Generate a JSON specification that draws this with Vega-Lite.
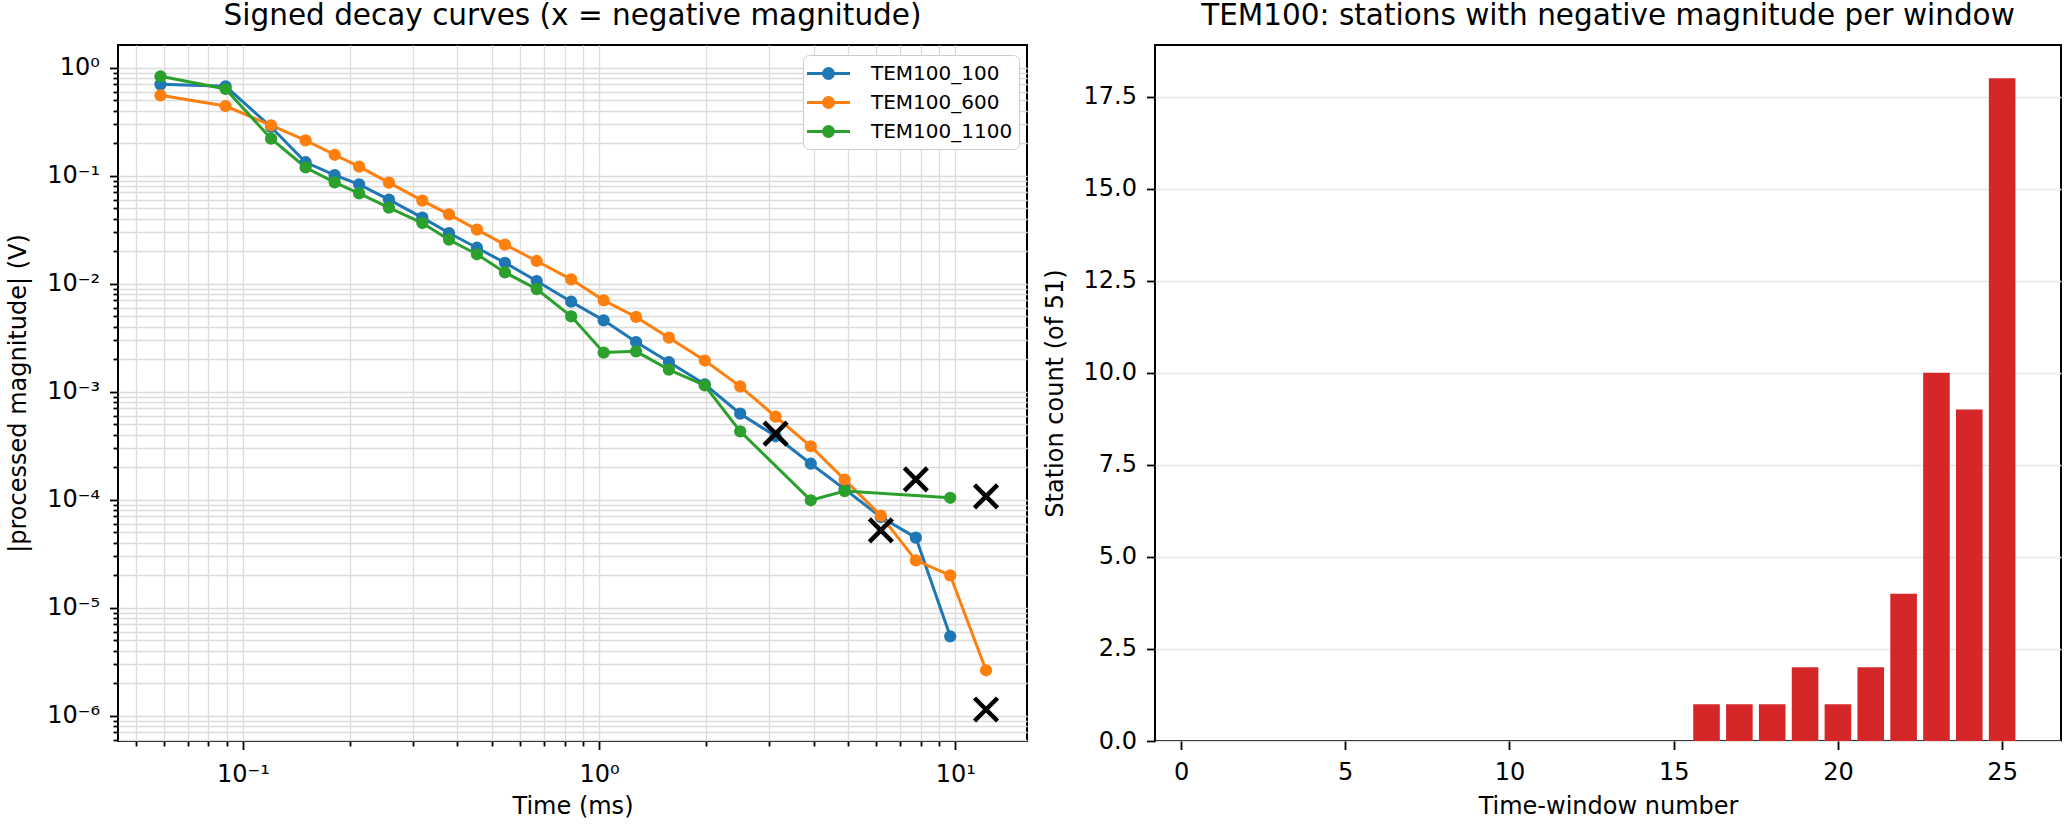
{
  "$schema": "https://vega.github.io/schema/vega-lite/v6.json",
  "autosize": {"type": "none"},
  "padding": {"left": 118, "top": 45, "right": 1952, "bottom": 782},
  "background": "white",
  "spacing": 128,
  "bounds": "flush",
  "config": {
    "font": "DejaVu Sans",
    "view": {"stroke": "#000000", "strokeWidth": 2},
    "axis": {
      "domain": false,
      "tickColor": "#000000",
      "tickWidth": 1.8,
      "tickSize": 8.5,
      "labelFontSize": 24,
      "labelColor": "#000000",
      "labelPadding": 11,
      "titleFontSize": 24,
      "titleFontWeight": "normal",
      "titleColor": "#000000",
      "gridWidth": 1.3
    },
    "title": {"fontSize": 29.5, "fontWeight": "normal", "color": "#000000", "anchor": "middle", "baseline": "alphabetic", "offset": 14}
  },
  "datasets": {
    "curves": [
      {"series": "TEM100_100", "t": 0.0587, "v": 0.700},
      {"series": "TEM100_100", "t": 0.0894, "v": 0.671},
      {"series": "TEM100_100", "t": 0.120, "v": 0.282},
      {"series": "TEM100_100", "t": 0.150, "v": 0.133},
      {"series": "TEM100_100", "t": 0.181, "v": 0.101},
      {"series": "TEM100_100", "t": 0.212, "v": 0.0831},
      {"series": "TEM100_100", "t": 0.257, "v": 0.0600},
      {"series": "TEM100_100", "t": 0.319, "v": 0.0408},
      {"series": "TEM100_100", "t": 0.379, "v": 0.0294},
      {"series": "TEM100_100", "t": 0.454, "v": 0.0215},
      {"series": "TEM100_100", "t": 0.544, "v": 0.0156},
      {"series": "TEM100_100", "t": 0.668, "v": 0.01057},
      {"series": "TEM100_100", "t": 0.835, "v": 0.0068},
      {"series": "TEM100_100", "t": 1.03, "v": 0.00457},
      {"series": "TEM100_100", "t": 1.27, "v": 0.00288},
      {"series": "TEM100_100", "t": 1.57, "v": 0.00188},
      {"series": "TEM100_100", "t": 1.98, "v": 0.00117},
      {"series": "TEM100_100", "t": 2.49, "v": 0.000625},
      {"series": "TEM100_100", "t": 3.13, "v": 0.000386},
      {"series": "TEM100_100", "t": 3.93, "v": 0.000215},
      {"series": "TEM100_100", "t": 4.89, "v": 0.000125},
      {"series": "TEM100_100", "t": 6.18, "v": 0.000069},
      {"series": "TEM100_100", "t": 7.75, "v": 0.0000445},
      {"series": "TEM100_100", "t": 9.68, "v": 0.00000542},
      {"series": "TEM100_600", "t": 0.0587, "v": 0.554},
      {"series": "TEM100_600", "t": 0.0894, "v": 0.441},
      {"series": "TEM100_600", "t": 0.120, "v": 0.292},
      {"series": "TEM100_600", "t": 0.150, "v": 0.212},
      {"series": "TEM100_600", "t": 0.181, "v": 0.156},
      {"series": "TEM100_600", "t": 0.212, "v": 0.121},
      {"series": "TEM100_600", "t": 0.257, "v": 0.0861},
      {"series": "TEM100_600", "t": 0.319, "v": 0.0587},
      {"series": "TEM100_600", "t": 0.379, "v": 0.0438},
      {"series": "TEM100_600", "t": 0.454, "v": 0.0316},
      {"series": "TEM100_600", "t": 0.544, "v": 0.0230},
      {"series": "TEM100_600", "t": 0.668, "v": 0.0162},
      {"series": "TEM100_600", "t": 0.835, "v": 0.01096},
      {"series": "TEM100_600", "t": 1.03, "v": 0.0070},
      {"series": "TEM100_600", "t": 1.27, "v": 0.00491},
      {"series": "TEM100_600", "t": 1.57, "v": 0.00316},
      {"series": "TEM100_600", "t": 1.98, "v": 0.00194},
      {"series": "TEM100_600", "t": 2.49, "v": 0.00112},
      {"series": "TEM100_600", "t": 3.13, "v": 0.000586},
      {"series": "TEM100_600", "t": 3.93, "v": 0.000312},
      {"series": "TEM100_600", "t": 4.89, "v": 0.000153},
      {"series": "TEM100_600", "t": 6.18, "v": 0.000071},
      {"series": "TEM100_600", "t": 7.75, "v": 0.0000274},
      {"series": "TEM100_600", "t": 9.68, "v": 0.0000199},
      {"series": "TEM100_600", "t": 12.2, "v": 0.00000263},
      {"series": "TEM100_1100", "t": 0.0587, "v": 0.831},
      {"series": "TEM100_1100", "t": 0.0894, "v": 0.634},
      {"series": "TEM100_1100", "t": 0.120, "v": 0.220},
      {"series": "TEM100_1100", "t": 0.150, "v": 0.119},
      {"series": "TEM100_1100", "t": 0.181, "v": 0.0867},
      {"series": "TEM100_1100", "t": 0.212, "v": 0.0686},
      {"series": "TEM100_1100", "t": 0.257, "v": 0.0506},
      {"series": "TEM100_1100", "t": 0.319, "v": 0.0364},
      {"series": "TEM100_1100", "t": 0.379, "v": 0.0255},
      {"series": "TEM100_1100", "t": 0.454, "v": 0.0187},
      {"series": "TEM100_1100", "t": 0.544, "v": 0.0127},
      {"series": "TEM100_1100", "t": 0.668, "v": 0.0089},
      {"series": "TEM100_1100", "t": 0.835, "v": 0.00498},
      {"series": "TEM100_1100", "t": 1.03, "v": 0.0023},
      {"series": "TEM100_1100", "t": 1.27, "v": 0.00236},
      {"series": "TEM100_1100", "t": 1.57, "v": 0.0016},
      {"series": "TEM100_1100", "t": 1.98, "v": 0.00114},
      {"series": "TEM100_1100", "t": 2.49, "v": 0.000429},
      {"series": "TEM100_1100", "t": 3.93, "v": 0.0000986},
      {"series": "TEM100_1100", "t": 4.89, "v": 0.000120},
      {"series": "TEM100_1100", "t": 9.68, "v": 0.000104}
    ],
    "negatives": [
      {"series": "TEM100_1100", "t": 3.13, "v": 0.000408},
      {"series": "TEM100_1100", "t": 6.18, "v": 0.000052},
      {"series": "TEM100_1100", "t": 7.75, "v": 0.000154},
      {"series": "TEM100_1100", "t": 12.2, "v": 0.000107},
      {"series": "TEM100_100", "t": 12.2, "v": 0.00000114}
    ],
    "windows": [
      {"window": 1, "count": 0}, {"window": 2, "count": 0}, {"window": 3, "count": 0},
      {"window": 4, "count": 0}, {"window": 5, "count": 0}, {"window": 6, "count": 0},
      {"window": 7, "count": 0}, {"window": 8, "count": 0}, {"window": 9, "count": 0},
      {"window": 10, "count": 0}, {"window": 11, "count": 0}, {"window": 12, "count": 0},
      {"window": 13, "count": 0}, {"window": 14, "count": 0}, {"window": 15, "count": 0},
      {"window": 16, "count": 1}, {"window": 17, "count": 1}, {"window": 18, "count": 1},
      {"window": 19, "count": 2}, {"window": 20, "count": 1}, {"window": 21, "count": 2},
      {"window": 22, "count": 4}, {"window": 23, "count": 10}, {"window": 24, "count": 9},
      {"window": 25, "count": 18}
    ]
  },
  "hconcat": [
    {
      "width": 909,
      "height": 696,
      "title": {"text": "Signed decay curves (x = negative magnitude)"},
      "layer": [
        {
          "data": {"name": "curves"},
          "mark": {"type": "line", "strokeWidth": 3},
          "encoding": {
            "x": {
              "field": "t", "type": "quantitative",
              "scale": {"type": "log", "domain": [0.0446, 15.9], "nice": false},
              "axis": {
                "title": "Time (ms)",
                "titleY": 72, "titleBaseline": "alphabetic",
                "values": [0.05, 0.06, 0.07, 0.08, 0.09, 0.1, 0.2, 0.3, 0.4, 0.5, 0.6, 0.7, 0.8, 0.9, 1, 2, 3, 4, 5, 6, 7, 8, 9, 10],
                "labelExpr": "datum.value == 0.1 ? '10⁻¹' : datum.value == 1 ? '10⁰' : datum.value == 10 ? '10¹' : ''",
                "tickSize": {"condition": {"test": "indexof([0.1, 1, 10], datum.value) >= 0", "value": 8.5}, "value": 5},
                "labelPadding": 13,
                "grid": true, "gridColor": "#dcdcdc"
              }
            },
            "y": {
              "field": "v", "type": "quantitative",
              "scale": {"type": "log", "domain": [5.82e-7, 1.62], "nice": false},
              "axis": {
                "title": "|processed magnitude| (V)",
                "titleX": -100, "titleBaseline": "middle",
                "values": [6e-7, 7e-7, 8e-7, 9e-7,
                  1e-6, 2e-6, 3e-6, 4e-6, 5e-6, 6e-6, 7e-6, 8e-6, 9e-6,
                  1e-5, 2e-5, 3e-5, 4e-5, 5e-5, 6e-5, 7e-5, 8e-5, 9e-5,
                  1e-4, 2e-4, 3e-4, 4e-4, 5e-4, 6e-4, 7e-4, 8e-4, 9e-4,
                  0.001, 0.002, 0.003, 0.004, 0.005, 0.006, 0.007, 0.008, 0.009,
                  0.01, 0.02, 0.03, 0.04, 0.05, 0.06, 0.07, 0.08, 0.09,
                  0.1, 0.2, 0.3, 0.4, 0.5, 0.6, 0.7, 0.8, 0.9, 1],
                "labelExpr": "datum.value == 1 ? '10⁰' : datum.value == 0.1 ? '10⁻¹' : datum.value == 0.01 ? '10⁻²' : datum.value == 0.001 ? '10⁻³' : datum.value == 0.0001 ? '10⁻⁴' : datum.value == 0.00001 ? '10⁻⁵' : datum.value == 0.000001 ? '10⁻⁶' : ''",
                "tickSize": {"condition": {"test": "indexof([1, 0.1, 0.01, 0.001, 0.0001, 0.00001, 0.000001], datum.value) >= 0", "value": 8.5}, "value": 5},
                "labelPadding": 10,
                "grid": true, "gridColor": "#dcdcdc"
              }
            },
            "stroke": {
              "field": "series", "type": "nominal",
              "scale": {"domain": ["TEM100_100", "TEM100_600", "TEM100_1100"], "range": ["#1f77b4", "#ff7f0e", "#2ca02c"]},
              "legend": {
                "title": null, "orient": "none", "legendX": 685, "legendY": 10,
                "labelFontSize": 20, "labelColor": "#000000",
                "symbolType": "M-2,0H2M0.46,0A0.46,0.46,0,1,1,-0.46,0A0.46,0.46,0,1,1,0.46,0Z",
                "symbolSize": 462, "symbolStrokeWidth": 3, "symbolOffset": 7,
                "fillColor": "#ffffff", "strokeColor": "#cccccc", "cornerRadius": 6,
                "padding": 6, "rowPadding": 5, "labelOffset": 30
              }
            }
          }
        },
        {
          "data": {"name": "curves"},
          "mark": {"type": "point", "shape": "circle", "filled": true, "size": 150, "opacity": 1},
          "encoding": {
            "x": {"field": "t", "type": "quantitative"},
            "y": {"field": "v", "type": "quantitative"},
            "fill": {
              "field": "series", "type": "nominal",
              "scale": {"domain": ["TEM100_100", "TEM100_600", "TEM100_1100"], "range": ["#1f77b4", "#ff7f0e", "#2ca02c"]},
              "legend": {
                "title": null, "orient": "none", "legendX": 685, "legendY": 10,
                "labelFontSize": 20, "labelColor": "#000000",
                "symbolType": "M-2,0H2M0.46,0A0.46,0.46,0,1,1,-0.46,0A0.46,0.46,0,1,1,0.46,0Z",
                "symbolSize": 462, "symbolStrokeWidth": 3, "symbolOffset": 7,
                "fillColor": "#ffffff", "strokeColor": "#cccccc", "cornerRadius": 6,
                "padding": 6, "rowPadding": 5, "labelOffset": 30
              }
            }
          }
        },
        {
          "data": {"name": "negatives"},
          "mark": {"type": "point", "shape": "M-1,-1L1,1M1,-1L-1,1", "filled": false, "size": 529, "stroke": "#000000", "strokeWidth": 4.5, "opacity": 1},
          "encoding": {
            "x": {"field": "t", "type": "quantitative"},
            "y": {"field": "v", "type": "quantitative"}
          }
        }
      ]
    },
    {
      "width": 906,
      "height": 696,
      "title": {"text": "TEM100: stations with negative magnitude per window"},
      "data": {"name": "windows"},
      "mark": {"type": "bar", "color": "#d62728", "width": 26.6},
      "encoding": {
        "x": {
          "field": "window", "type": "quantitative",
          "scale": {"domain": [-0.64, 26.64], "nice": false, "zero": false},
          "axis": {"title": "Time-window number", "titleY": 72, "titleBaseline": "alphabetic", "values": [0, 5, 10, 15, 20, 25], "grid": false}
        },
        "y": {
          "field": "count", "type": "quantitative",
          "scale": {"domain": [0, 18.9], "nice": false},
          "axis": {
            "title": "Station count (of 51)", "titleX": -100, "titleBaseline": "middle",
            "values": [0, 2.5, 5, 7.5, 10, 12.5, 15, 17.5], "format": ".1f",
            "grid": true, "gridColor": "#e6e6e6", "labelPadding": 10
          }
        }
      }
    }
  ]
}
